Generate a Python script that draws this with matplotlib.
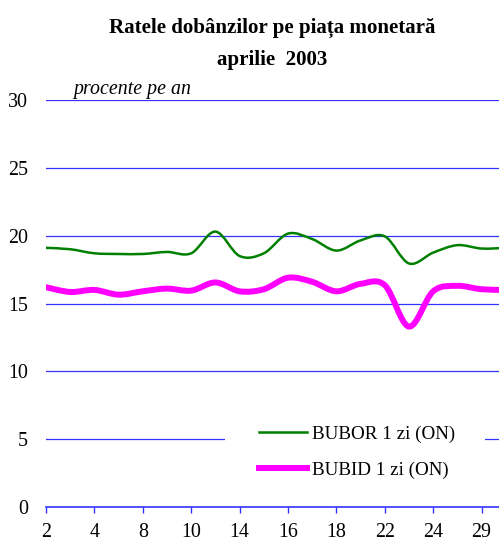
import matplotlib.pyplot as plt
from matplotlib.path import Path
from matplotlib.patches import PathPatch, Rectangle
from matplotlib.lines import Line2D

# business days of April 2003 (Easter Monday 28 is a holiday)
days = ["2", "3", "4", "7", "8", "9", "10", "11", "14", "15",
        "16", "17", "18", "21", "22", "23", "24", "25", "29", "30"]
bubor = [19.1, 19.0, 18.7, 18.65, 18.65, 18.8, 18.7, 20.3, 18.5, 18.7,
         20.15, 19.75, 18.9, 19.65, 19.95, 17.95, 18.75, 19.3, 19.05, 19.1]
bubid = [16.2, 15.85, 16.0, 15.65, 15.9, 16.1, 15.95, 16.55, 15.9, 16.05,
         16.9, 16.6, 15.9, 16.45, 16.35, 13.3, 15.9, 16.3, 16.05, 16.0]

plt.rcParams["font.family"] = ["Liberation Serif", "DejaVu Serif"]


def smooth_path(xs, ys):
    # Excel-style smoothed line as cubic bezier segments
    pts = list(zip(xs, ys))
    verts = [pts[0]]
    codes = [Path.MOVETO]
    n = len(pts)
    for i in range(n - 1):
        p0 = pts[i - 1] if i > 0 else pts[i]
        p1 = pts[i]
        p2 = pts[i + 1]
        p3 = pts[i + 2] if i + 2 < n else pts[i + 1]
        c1 = (p1[0] + (p2[0] - p0[0]) / 6, p1[1] + (p2[1] - p0[1]) / 6)
        c2 = (p2[0] - (p3[0] - p1[0]) / 6, p2[1] - (p3[1] - p1[1]) / 6)
        verts += [c1, c2, p2]
        codes += [Path.CURVE4] * 3
    return Path(verts, codes)


fig = plt.figure(figsize=(4.99, 5.41), dpi=100)
ax = fig.add_axes([0.0922, 0.0628, 0.9078, 0.7524])

x = list(range(len(days)))
grid_col = "#3333ff"
for v in [5, 10, 15, 20, 25, 30]:
    ax.axhline(v, color=grid_col, lw=0.9, zorder=1)

ax.add_patch(PathPatch(smooth_path(x, bubor), fill=False, edgecolor="#008000",
                       lw=1.8, zorder=3, capstyle="round"))
ax.add_patch(PathPatch(smooth_path(x, bubid), fill=False, edgecolor="#ff00ff",
                       lw=4.3, zorder=3, capstyle="round"))

ax.set_xlim(0, 18.72)
ax.set_ylim(0, 30)
ax.set_yticks([0, 5, 10, 15, 20, 25, 30])
ax.set_xticks(x[::2])
ax.set_xticklabels(days[::2])
ax.tick_params(axis="x", direction="out", length=4.3, color=grid_col, width=1,
               labelsize=14.4, pad=7)
ax.tick_params(axis="y", length=0, labelsize=14.4, pad=13)
for s in ["left", "right", "top"]:
    ax.spines[s].set_visible(False)
ax.spines["bottom"].set_color(grid_col)
ax.spines["bottom"].set_linewidth(1.2)

ax.text(0.06, 1.003, "procente pe an", transform=ax.transAxes, style="italic",
        fontsize=14.3, va="bottom", ha="left")

fig.text(0.546, 0.949, "Ratele dobânzilor pe piața monetară", ha="center",
         va="center", fontsize=15.1, fontweight="bold")
fig.text(0.546, 0.889, "aprilie  2003", ha="center", va="center",
         fontsize=15.1, fontweight="bold")

# white box behind the legend hides part of the 5% gridline
ax.add_patch(Rectangle((0.395, 0.13), 0.574, 0.1, transform=ax.transAxes,
                       facecolor="white", edgecolor="none", zorder=2))

handles = [Line2D([], [], color="#008000", lw=1.8),
           Line2D([], [], color="#ff00ff", lw=4.3)]
leg = ax.legend(handles, ["BUBOR 1 zi (ON)", "BUBID 1 zi (ON)"],
                loc="upper left", bbox_to_anchor=(0.462, 0.21), fontsize=13.7,
                frameon=False, handlelength=2.5, handletextpad=0.28,
                labelspacing=1.0, borderpad=0.2, borderaxespad=0)
leg.set_zorder(5)

fig.savefig("out.png", dpi=100)
